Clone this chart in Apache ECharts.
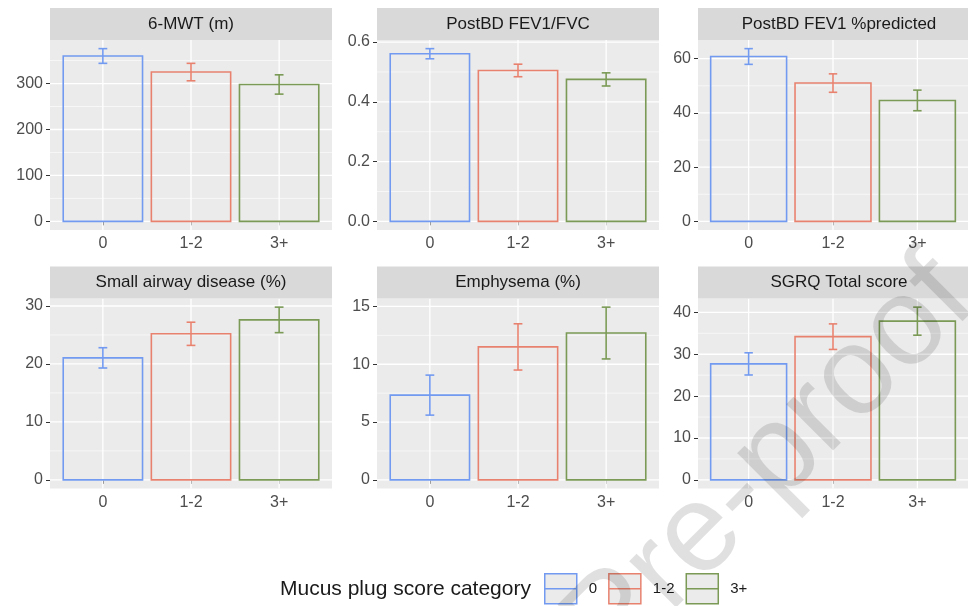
<!DOCTYPE html>
<html><head><meta charset="utf-8">
<script src="https://cdn.jsdelivr.net/npm/echarts@6/dist/echarts.min.js"></script>
<style>html,body{margin:0;padding:0;background:#fff}#c{width:968px;height:606px}</style>
</head><body><div id="c"></div>
<script>
// ---- data ----
const categories = ['0', '1-2', '3+'];
const panelTitles = ['6-MWT (m)', 'PostBD FEV1/FVC', 'PostBD FEV1 %predicted', 'Small airway disease (%)', 'Emphysema (%)', 'SGRQ Total score'];
const mwtMean = [360, 325, 298];
const mwtErr = [16, 19, 21];
const fvcMean = [0.561, 0.505, 0.475];
const fvcErr = [0.017, 0.021, 0.022];
const fev1Mean = [60.8, 51.0, 44.6];
const fev1Err = [2.9, 3.4, 3.8];
const sadMean = [21.05, 25.2, 27.6];
const sadErr = [1.75, 2.0, 2.2];
const emphMean = [7.33, 11.5, 12.7];
const emphErr = [1.73, 2.0, 2.24];
const sgrqMean = [27.7, 34.2, 37.9];
const sgrqErr = [2.65, 3.05, 3.35];
const mwtTicks = [0, 100, 200, 300];
const fvcTicks = [0, 0.2, 0.4, 0.6];
const fev1Ticks = [0, 20, 40, 60];
const sadTicks = [0, 10, 20, 30];
const emphTicks = [0, 5, 10, 15];
const sgrqTicks = [0, 10, 20, 30, 40];
const legendTitle = 'Mucus plug score category';
const watermark = 'Journal Pre-proof';

// ---- styling / layout ----
const colors = ['#729AF0', '#E8826F', '#7A9A55'];
const FONT = '"Liberation Sans", Arial, Helvetica, sans-serif';
const panelLefts = [50, 377, 698];
const panelTops = [40, 298.5];
const panelW = 282, panelH = 190, stripH = 32;

const panels = [
  {means: mwtMean, errs: mwtErr, ticks: mwtTicks, dec: 0},
  {means: fvcMean, errs: fvcErr, ticks: fvcTicks, dec: 1},
  {means: fev1Mean, errs: fev1Err, ticks: fev1Ticks, dec: 0},
  {means: sadMean, errs: sadErr, ticks: sadTicks, dec: 0},
  {means: emphMean, errs: emphErr, ticks: emphTicks, dec: 0},
  {means: sgrqMean, errs: sgrqErr, ticks: sgrqTicks, dec: 0}
];

const grids = [], xAxes = [], yAxes = [], series = [], graphics = [];

function gridRender(params, api) {
  const cs = params.coordSys;
  const kind = api.value(2), major = api.value(3);
  const lw = major ? 1.3 : 0.6;
  if (kind === 0) {
    const y = api.coord([1, api.value(1)])[1];
    return {type: 'line', shape: {x1: cs.x, y1: y, x2: cs.x + cs.width, y2: y}, style: {stroke: '#FFFFFF', lineWidth: lw}, silent: true};
  }
  const x = api.coord([api.value(0), 0])[0];
  return {type: 'line', shape: {x1: x, y1: cs.y, x2: x, y2: cs.y + cs.height}, style: {stroke: '#FFFFFF', lineWidth: lw}, silent: true};
}

function barRender(params, api) {
  const x = api.value(0), m = api.value(1), e = api.value(2), ci = api.value(3);
  const c = colors[ci];
  const tl = api.coord([x - 0.45, m]), br = api.coord([x + 0.45, 0]);
  const top = api.coord([x, m + e]), bot = api.coord([x, m - e]);
  const tL = api.coord([x - 0.05, m + e]), tR = api.coord([x + 0.05, m + e]);
  const bL = api.coord([x - 0.05, m - e]), bR = api.coord([x + 0.05, m - e]);
  const st = {stroke: c, lineWidth: 1.6, fill: null};
  return {type: 'group', children: [
    {type: 'rect', shape: {x: tl[0], y: tl[1], width: br[0] - tl[0], height: br[1] - tl[1]}, style: Object.assign({}, st, {fill: 'rgba(0,0,0,0)'})},
    {type: 'line', shape: {x1: top[0], y1: top[1], x2: bot[0], y2: bot[1]}, style: st},
    {type: 'line', shape: {x1: tL[0], y1: tL[1], x2: tR[0], y2: tR[1]}, style: st},
    {type: 'line', shape: {x1: bL[0], y1: bL[1], x2: bR[0], y2: bR[1]}, style: st}
  ]};
}

panels.forEach((p, i) => {
  const col = i % 3, row = Math.floor(i / 3);
  const left = panelLefts[col], top = panelTops[row];
  const hi = Math.max(...p.means.map((m, k) => m + p.errs[k]));
  const exp = hi * 0.05;
  const yMin = -exp, yMax = hi + exp;
  grids.push({left: left, top: top, width: panelW, height: panelH, show: true, backgroundColor: '#EBEBEB', borderWidth: 0, containLabel: false});
  xAxes.push({
    gridIndex: i, type: 'value', min: 0.4, max: 3.6,
    splitLine: {show: false}, axisLine: {show: false},
    axisTick: {show: true, customValues: [1, 2, 3], length: 4, lineStyle: {color: '#333333', width: 1}},
    axisLabel: {customValues: [1, 2, 3], formatter: v => categories[Math.round(v) - 1], color: '#4D4D4D', fontSize: 16, fontFamily: FONT, margin: 6}
  });
  yAxes.push({
    gridIndex: i, type: 'value', min: yMin, max: yMax,
    splitLine: {show: false}, axisLine: {show: false},
    axisTick: {show: true, customValues: p.ticks, length: 4, lineStyle: {color: '#333333', width: 1}},
    axisLabel: {customValues: p.ticks, formatter: v => v.toFixed(p.dec), color: '#4D4D4D', fontSize: 16, fontFamily: FONT, margin: 7}
  });
  // gridlines
  const step = p.ticks[1] - p.ticks[0];
  const gdata = [];
  p.ticks.forEach(t => gdata.push([1, t, 0, 1]));
  for (let k = 0; k < p.ticks.length; k++) {
    const mv = p.ticks[k] + step / 2;
    if (mv <= yMax) gdata.push([1, mv, 0, 0]);
  }
  categories.forEach((c, k) => gdata.push([k + 1, 0, 1, 1]));
  series.push({type: 'custom', xAxisIndex: i, yAxisIndex: i, z: 1, silent: true, renderItem: gridRender, data: gdata, encode: {x: 0, y: 1}});
  // bars + error bars
  series.push({
    type: 'custom', xAxisIndex: i, yAxisIndex: i, z: 3, silent: true, renderItem: barRender, clip: false,
    data: p.means.map((m, k) => [k + 1, m, p.errs[k], k]), encode: {x: 0, y: 1}
  });
  // strip
  graphics.push({type: 'rect', left: left, top: top - stripH, shape: {width: panelW, height: stripH}, style: {fill: '#D9D9D9'}, z: 5});
  graphics.push({type: 'text', x: left + panelW / 2, y: top - stripH / 2, style: {text: panelTitles[i], fill: '#1A1A1A', font: '17px ' + FONT, textAlign: 'center', textVerticalAlign: 'middle'}, z: 6});
});

// dummy series for legend
categories.forEach((c, k) => {
  series.push({type: 'custom', name: c, xAxisIndex: 0, yAxisIndex: 0, data: [], renderItem: () => null, itemStyle: {color: colors[k]}});
});

graphics.push({type: 'text', x: 280, y: 589, style: {text: legendTitle, fill: '#1A1A1A', font: '21px ' + FONT, textAlign: 'left', textVerticalAlign: 'middle'}, z: 6});
graphics.push({type: 'text', x: 955, y: 280, rotation: Math.PI / 4, style: {text: watermark, fill: 'rgba(0,0,0,0.12)', font: '125px ' + FONT, textAlign: 'right', textVerticalAlign: 'middle'}, z: 100, silent: true});

const chart = echarts.init(document.getElementById('c'), null, {renderer: 'canvas'});
chart.setOption({
  animation: false,
  backgroundColor: '#FFFFFF',
  grid: grids, xAxis: xAxes, yAxis: yAxes, series: series,
  legend: {
    data: categories.map((c, k) => ({name: c, itemStyle: {color: '#EBEBEB', borderColor: colors[k], borderWidth: 1.5}})),
    left: 544, top: 573, orient: 'horizontal', padding: 0,
    itemWidth: 32, itemHeight: 30, itemGap: 11,
    icon: 'path://M0,0L32,0L32,30L0,30ZM0,15L32,15',
    textStyle: {fontSize: 15, color: '#1A1A1A', fontFamily: FONT, padding: [0, 0, 0, 7]},
    selectedMode: false
  },
  graphic: graphics
});
</script></body></html>
